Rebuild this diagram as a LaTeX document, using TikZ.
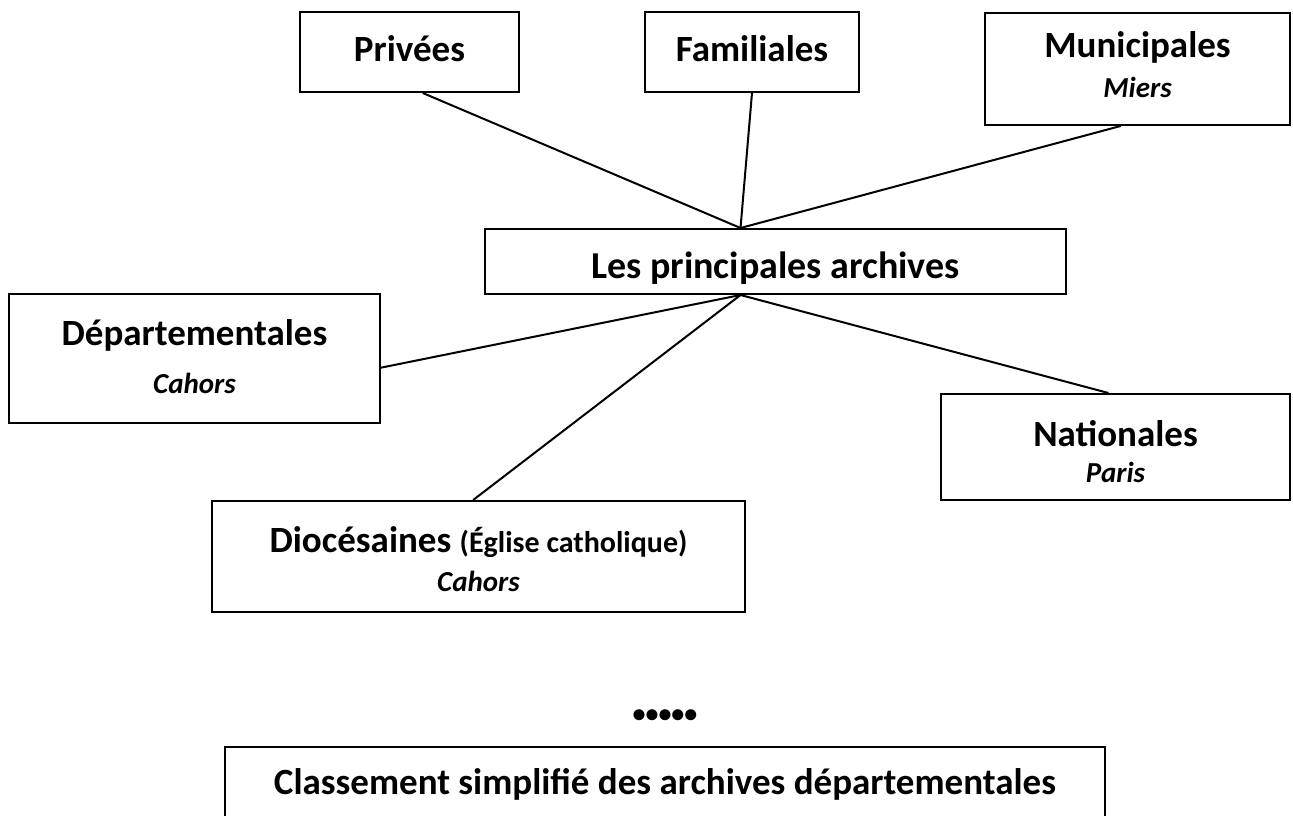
\documentclass[tikz,border=0pt]{standalone}
\usepackage{fontspec}
\setmainfont{Carlito}
\usetikzlibrary{calc}
\begin{document}
\begin{tikzpicture}[x=1pt,y=-1pt,
  box/.style={draw, line width=2pt, inner sep=0pt},
  lbl/.style={font=\fontsize{37}{40}\selectfont\bfseries, inner sep=0pt, anchor=base},
  sub/.style={font=\fontsize{29}{32}\selectfont\bfseries\itshape, inner sep=0pt, anchor=base},
  link/.style={line width=2pt}]
\useasboundingbox (0,0) rectangle (1293,816);
\begin{scope}
\clip (0,0) rectangle (1293,816);
% boxes
\node[box, minimum width=219pt, minimum height=80pt] (priv) at (409.5,52) {};
\node[box, minimum width=214pt, minimum height=80pt] (fam) at (752,52) {};
\node[box, minimum width=305pt, minimum height=112pt] (mun) at (1137.5,69) {};
\node[box, minimum width=581pt, minimum height=65pt] (cen) at (775.5,261.5) {};
\node[box, minimum width=371pt, minimum height=129pt] (dep) at (194.5,358.5) {};
\node[box, minimum width=349pt, minimum height=106pt] (nat) at (1115.5,447) {};
\node[box, minimum width=533pt, minimum height=111pt] (dio) at (478.5,556.5) {};
\node[box, minimum width=880pt, minimum height=100pt] (cla) at (665,797) {};
% texts
\node[lbl] (tpriv) at (409.5,62) {Privées};
\node[lbl] (tfam) at (752,62) {Familiales};
\node[lbl] (tmun) at (1137.5,58) {Municipales};
\node[sub] (smun) at (1137.5,97) {Miers};
\node[lbl, font=\fontsize{38}{40}\selectfont\bfseries] (tcen) at (775.5,278) {Les principales archives};
\node[lbl] (tdep) at (194.5,345) {Départementales};
\node[sub] (sdep) at (194.5,393) {Cahors};
\node[lbl] (tnat) at (1115.5,446) {Nationales};
\node[sub] (snat) at (1115.5,482) {Paris};
\node[lbl] (tdio) at (478.5,552) {Diocésaines {\fontsize{30}{32}\selectfont(Église catholique)}};
\node[sub] (sdio) at (478.5,591) {Cahors};
\node[lbl, font=\fontsize{26}{28}\selectfont\bfseries] (dots) at (665,722) {•••••};
\node[lbl] (tcla) at (665,794) {Classement simplifié des archives départementales};
% connectors
\coordinate (ctop) at ($(cen.north west)!0.44!(cen.north east)$);
\coordinate (cbot) at ($(cen.south west)!0.44!(cen.south east)$);
\draw[link] ($(priv.south west)!0.56!(priv.south east)$) -- (ctop);
\draw[link] ($(fam.south west)!0.5!(fam.south east)$) -- (ctop);
\draw[link] ($(mun.south west)!0.445!(mun.south east)$) -- (ctop);
\draw[link] (cbot) -- ($(dep.north east)!0.57!(dep.south east)$);
\draw[link] (cbot) -- ($(dio.north west)!0.49!(dio.north east)$);
\draw[link] (cbot) -- ($(nat.north west)!0.48!(nat.north east)$);
\end{scope}
\end{tikzpicture}
\end{document}
